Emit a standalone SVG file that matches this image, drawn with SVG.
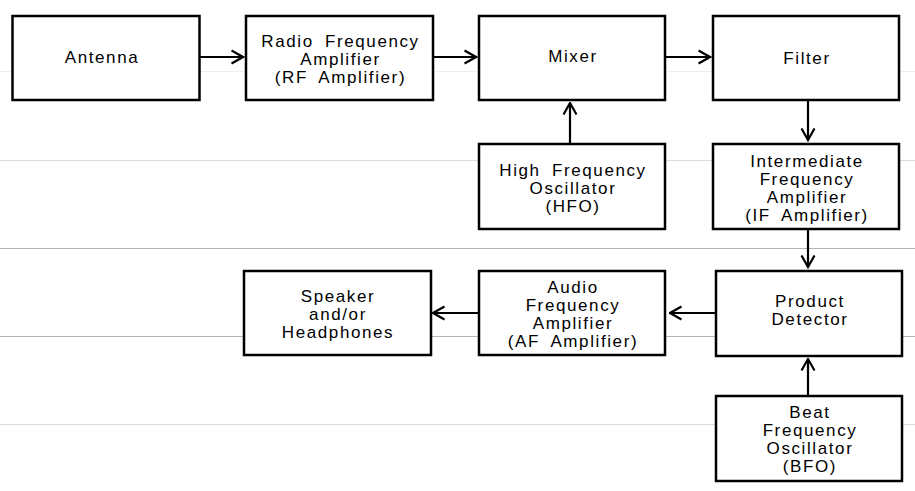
<svg xmlns="http://www.w3.org/2000/svg" width="915" height="491" viewBox="0 0 915 491">
<defs>
<marker id="ah" viewBox="0 0 14 16" refX="12.5" refY="8" markerWidth="14" markerHeight="16" markerUnits="userSpaceOnUse" orient="auto">
<path d="M1,1.5 L12.5,8 L1,14.5" fill="none" stroke="#000" stroke-width="2.2"/>
</marker>
<style>
.bg{fill:#fff}
.rule{stroke-width:1}
.box{fill:#fff;stroke:#000;stroke-width:2.5}
.t{font-family:"Liberation Sans",Arial,sans-serif;font-size:17px;fill:#000;text-anchor:middle;letter-spacing:1.6px;word-spacing:5px}
.c{stroke:#000;stroke-width:2.2;fill:none;marker-end:url(#ah)}
</style>
</defs>
<rect class="bg" x="0" y="0" width="915" height="491"/>
<g id="rules">
<line class="rule" x1="0" y1="71.5" x2="915" y2="71.5" stroke="#eeeeee"/>
<line class="rule" x1="0" y1="160.5" x2="915" y2="160.5" stroke="#dcdcdc"/>
<line class="rule" x1="0" y1="248.5" x2="915" y2="248.5" stroke="#b4b4b4"/>
<line class="rule" x1="0" y1="336.5" x2="915" y2="336.5" stroke="#b4b4b4"/>
<line class="rule" x1="0" y1="424.5" x2="915" y2="424.5" stroke="#dcdcdc"/>
</g>
<g id="connectors">
<line class="c" x1="199" y1="57" x2="243" y2="57"/>
<line class="c" x1="433" y1="57" x2="476" y2="57"/>
<line class="c" x1="665" y1="57" x2="710" y2="57"/>
<line class="c" x1="808" y1="100" x2="808" y2="140"/>
<line class="c" x1="570" y1="144" x2="570" y2="103"/>
<line class="c" x1="808" y1="229" x2="808" y2="267"/>
<line class="c" x1="715" y1="313" x2="670" y2="313"/>
<line class="c" x1="478" y1="313" x2="433" y2="313"/>
<line class="c" x1="808" y1="396" x2="808" y2="359"/>
</g>
<g id="antenna"><rect class="box" x="12.5" y="16" width="187" height="84"/><text class="t" x="102" y="63">Antenna</text></g>
<g id="rf"><rect class="box" x="246" y="16" width="187" height="84"/><text class="t" x="340.5" y="47">Radio Frequency</text><text class="t" x="340.5" y="65">Amplifier</text><text class="t" x="340.5" y="83">(RF Amplifier)</text></g>
<g id="mixer"><rect class="box" x="479" y="16" width="186" height="84"/><text class="t" x="573" y="62">Mixer</text></g>
<g id="filter"><rect class="box" x="713" y="16" width="186" height="84"/><text class="t" x="807" y="64">Filter</text></g>
<g id="hfo"><rect class="box" x="479" y="144" width="186" height="85"/><text class="t" x="573" y="176">High Frequency</text><text class="t" x="573" y="194">Oscillator</text><text class="t" x="573" y="212">(HFO)</text></g>
<g id="if"><rect class="box" x="713" y="144" width="186" height="85"/><text class="t" x="807" y="167">Intermediate</text><text class="t" x="807" y="185">Frequency</text><text class="t" x="807" y="203">Amplifier</text><text class="t" x="807" y="221">(IF Amplifier)</text></g>
<g id="speaker"><rect class="box" x="244" y="271" width="187" height="84"/><text class="t" x="338" y="302">Speaker</text><text class="t" x="338" y="320">and/or</text><text class="t" x="338" y="338">Headphones</text></g>
<g id="af"><rect class="box" x="479" y="271" width="186" height="84"/><text class="t" x="573" y="293">Audio</text><text class="t" x="573" y="311">Frequency</text><text class="t" x="573" y="329">Amplifier</text><text class="t" x="573" y="347">(AF Amplifier)</text></g>
<g id="product"><rect class="box" x="716" y="271" width="186" height="85"/><text class="t" x="810" y="307">Product</text><text class="t" x="810" y="325">Detector</text></g>
<g id="bfo"><rect class="box" x="716" y="396" width="186" height="85"/><text class="t" x="810" y="418">Beat</text><text class="t" x="810" y="436">Frequency</text><text class="t" x="810" y="454">Oscillator</text><text class="t" x="810" y="472">(BFO)</text></g>
</svg>
